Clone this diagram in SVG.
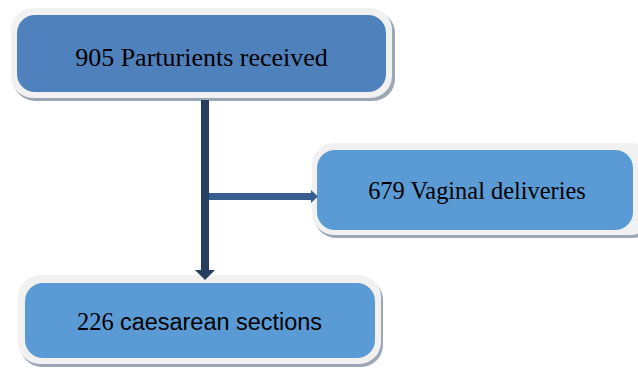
<svg xmlns="http://www.w3.org/2000/svg" width="638" height="368" viewBox="0 0 638 368">
<style>
.shadow{fill:#9CA7B6}
.frame{fill:#F1F1F1}
.dark{fill:#4F81BD}
.light{fill:#5B9BD5}
.serif{font-family:"Liberation Serif","Times New Roman",serif;fill:#000}
.sans{font-family:"Liberation Sans",Arial,sans-serif;fill:#000}
</style>
<rect width="638" height="368" fill="#FFFFFF"/>
<g id="node-received">
<rect class="shadow" x="13" y="11" width="382" height="90" rx="22"/>
<rect class="frame" x="11" y="8" width="381" height="90" rx="22"/>
<rect class="dark" x="17" y="15" width="369" height="77" rx="18"/>
<text class="serif" x="201.5" y="66" font-size="26" text-anchor="middle">905 Parturients received</text>
</g>
<g id="node-vaginal">
<rect class="shadow" x="314" y="146" width="340" height="92" rx="22"/>
<rect class="frame" x="312" y="143" width="340" height="92" rx="22"/>
<rect class="light" x="317" y="150" width="316" height="80" rx="18"/>
<text class="serif" x="477" y="199" font-size="24.4" text-anchor="middle">679 Vaginal deliveries</text>
</g>
<g id="node-caesarean">
<rect class="shadow" x="20" y="278" width="363" height="89" rx="22"/>
<rect class="frame" x="18" y="275" width="363" height="89" rx="22"/>
<rect class="light" x="25" y="283" width="350" height="75" rx="18"/>
<text x="77" y="330" font-size="24.5"><tspan class="serif">226</tspan><tspan class="sans" x="120" font-size="23.5" textLength="202" lengthAdjust="spacingAndGlyphs">caesarean sections</tspan></text>
</g>
<g id="connectors">
<line x1="205" y1="100" x2="205" y2="271" stroke="#243F60" stroke-width="8"/>
<polygon points="195,270 215,270 205,280" fill="#243F60"/>
<line x1="209" y1="196.5" x2="312" y2="196.5" stroke="#375E8F" stroke-width="7"/>
<polygon points="311,190 318,196.5 311,203" fill="#375E8F"/>
</g>
</svg>
